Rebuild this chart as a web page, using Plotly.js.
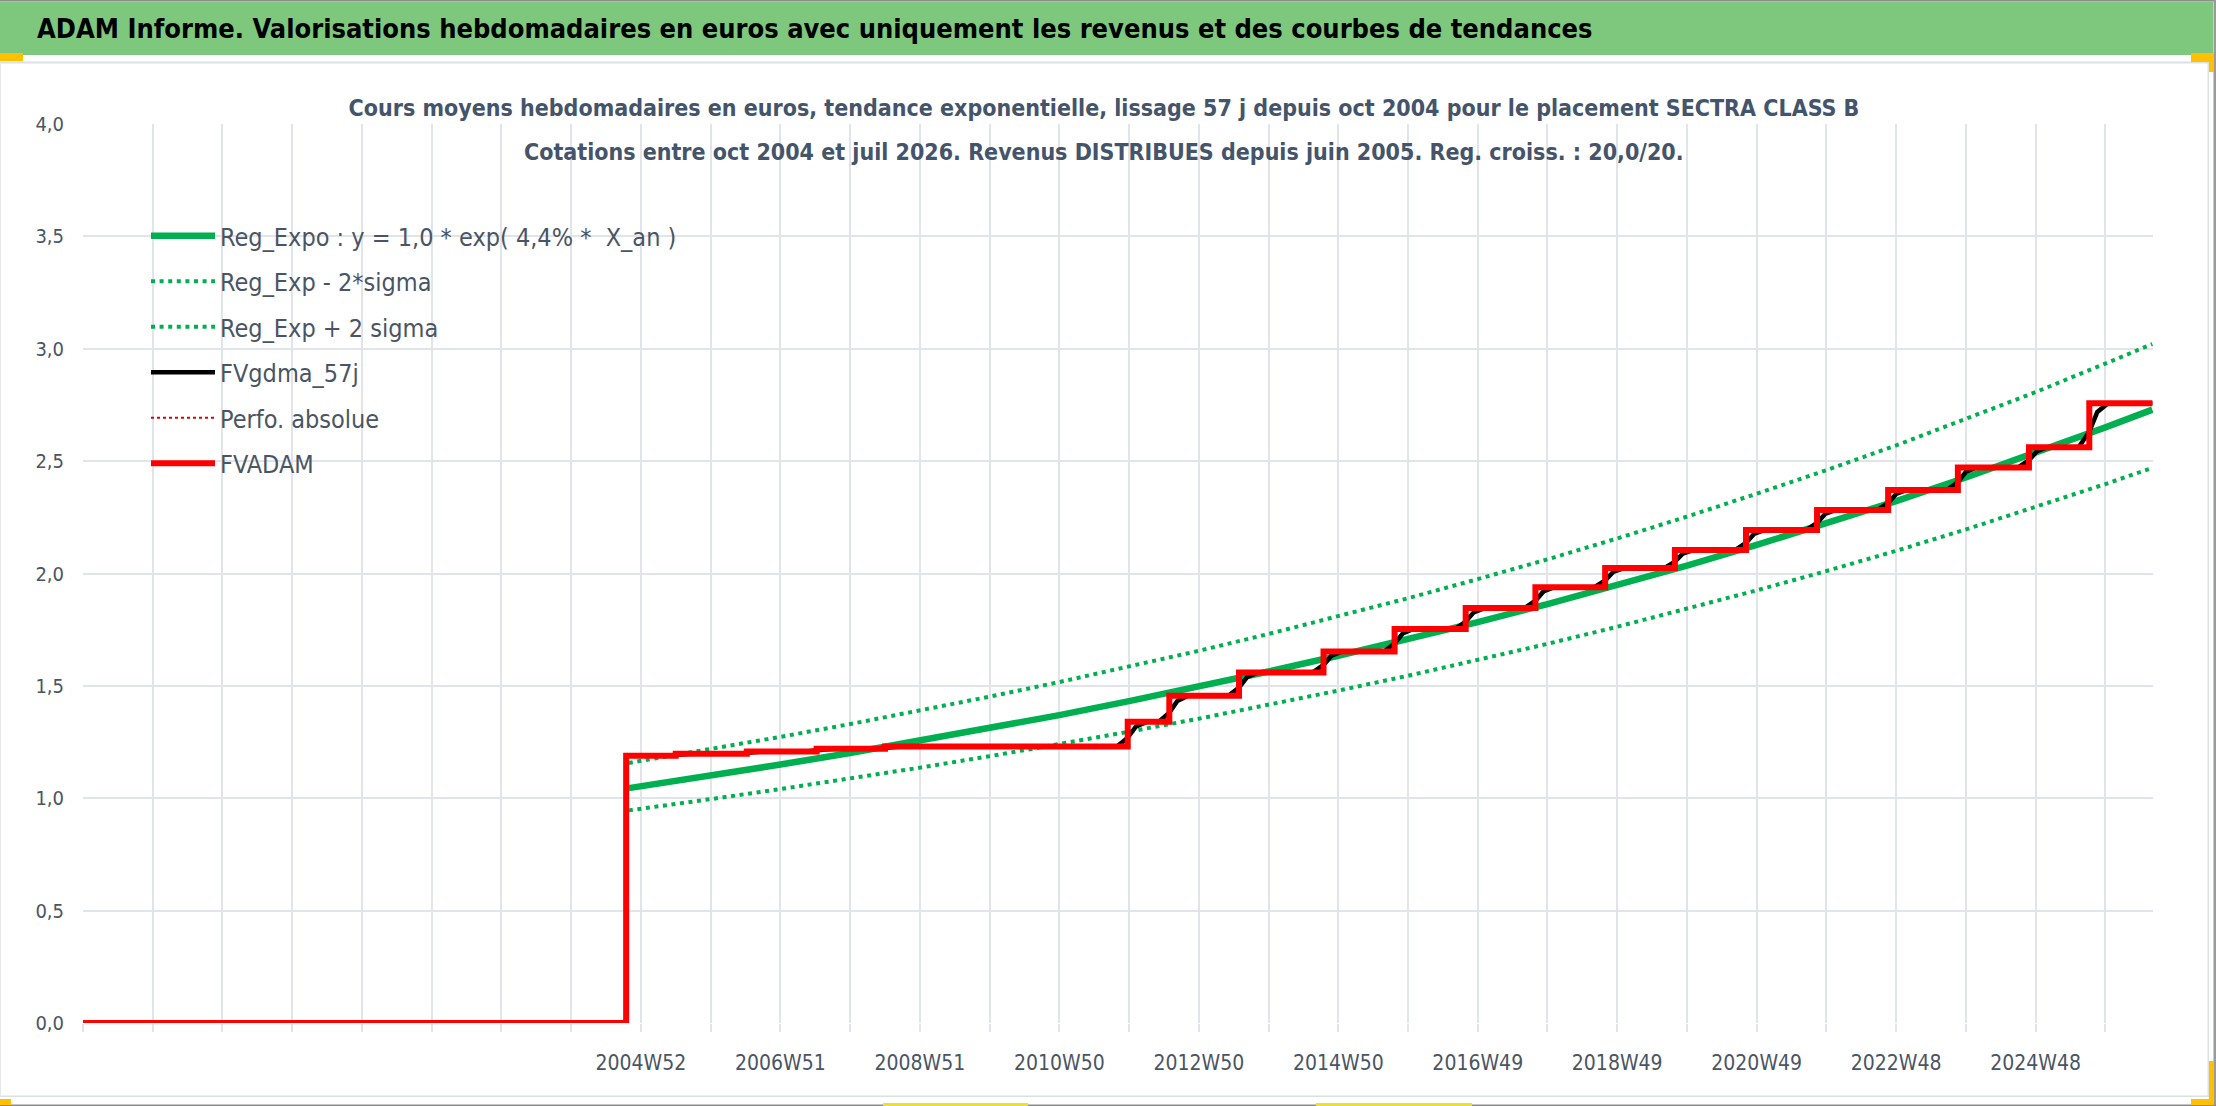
<!DOCTYPE html>
<html>
<head>
<meta charset="utf-8">
<script src="https://cdn.plot.ly/plotly-3.0.1.min.js"></script>
<style>
  body { margin: 0; background: #fff; }
  #chart { width: 2216px; height: 1106px; }
</style>
</head>
<body>
<div id="chart"></div>
<script>
// week index 0 = left edge of the axis, 52 weeks per gridline
var regWeeks = [407, 416, 468, 520, 572, 624, 676, 728, 780, 832, 884, 936, 988, 1040,
                1092, 1144, 1196, 1248, 1300, 1352, 1404, 1456, 1508, 1543];
var regExpo = [1.045, 1.053, 1.100, 1.150, 1.201, 1.255, 1.312, 1.370, 1.432, 1.496, 1.564, 1.634,
               1.707, 1.784, 1.864, 1.948, 2.035, 2.127, 2.222, 2.322, 2.427, 2.536, 2.650, 2.729];
var regLow = [0.946, 0.953, 0.996, 1.041, 1.087, 1.136, 1.187, 1.240, 1.296, 1.354, 1.415, 1.479,
              1.545, 1.615, 1.687, 1.763, 1.842, 1.925, 2.011, 2.101, 2.196, 2.295, 2.398, 2.470];
var regHigh = [1.157, 1.166, 1.218, 1.273, 1.330, 1.389, 1.452, 1.517, 1.585, 1.656, 1.731, 1.809,
               1.890, 1.975, 2.063, 2.156, 2.253, 2.355, 2.460, 2.570, 2.687, 2.807, 2.934, 3.021];

// FVADAM steps (value holds until next week listed)
var adamWeeks = [0, 405, 442, 495, 547, 598, 779, 810, 862, 925, 978, 1031, 1083, 1135, 1187,
                 1240, 1293, 1346, 1398, 1451, 1496, 1543];
var fvadam = [0, 1.189, 1.198, 1.208, 1.220, 1.230, 1.340, 1.456, 1.560, 1.653, 1.753, 1.846,
              1.939, 2.024, 2.105, 2.194, 2.283, 2.372, 2.472, 2.562, 2.758, 2.758];

// smoothed 57 j (lags a little around each distribution)
var gdmaWeeks = [405, 434, 454, 487, 507, 539, 559, 590, 610,
                 771, 779, 785, 793,   802, 810, 816, 824,   854, 862, 868, 876,
                 917, 925, 931, 939,   970, 978, 984, 992,   1023, 1031, 1037, 1045,
                 1075, 1083, 1089, 1097, 1127, 1135, 1141, 1149, 1179, 1187, 1193, 1201,
                 1232, 1240, 1246, 1254, 1285, 1293, 1299, 1307, 1338, 1346, 1352, 1360,
                 1390, 1398, 1404, 1412, 1443, 1451, 1457, 1465, 1488, 1496, 1502, 1510,
                 1543];
var gdma = [1.189, 1.189, 1.198, 1.198, 1.208, 1.208, 1.220, 1.220, 1.230,
            1.230, 1.269, 1.318, 1.340,   1.340, 1.381, 1.433, 1.456,   1.456, 1.492, 1.539, 1.560,
            1.560, 1.593, 1.634, 1.653,   1.653, 1.688, 1.733, 1.753,   1.753, 1.786, 1.827, 1.846,
            1.846, 1.879, 1.920, 1.939,   1.939, 1.969, 2.007, 2.024,   2.024, 2.052, 2.089, 2.105,
            2.105, 2.136, 2.176, 2.194,   2.194, 2.225, 2.265, 2.283,   2.283, 2.314, 2.354, 2.372,
            2.372, 2.407, 2.452, 2.472,   2.472, 2.504, 2.544, 2.562,   2.562, 2.631, 2.719, 2.758,
            2.758];

var labelWeeks = [416, 520, 624, 728, 832, 936, 1040, 1144, 1248, 1352, 1456];
var labelText = ['2004W52', '2006W51', '2008W51', '2010W50', '2012W50', '2014W50',
                 '2016W49', '2018W49', '2020W49', '2022W48', '2024W48'];

var FONT = '"DejaVu Sans Condensed", "Liberation Sans Narrow", "Open Sans", sans-serif';
var TXT = '#4a5564';
var GRID = '#e1e5eb';

// plot box in page pixels
var L = 83, R = 63, T = 124, B = 83, W = 2216, H = 1106;
var pw = W - L - R, ph = H - T - B;
function px(x) { return (x - L) / pw; }
function py(y) { return (H - B - y) / ph; }

// gridline every 52 weeks, label every other one
var tickVals = [], tickText = [];
for (var k = 0; k * 52 < 1543; k++) {
    tickVals.push(k * 52);
    var j = labelWeeks.indexOf(k * 52);
    tickText.push(j >= 0 ? labelText[j] : '');
}

var data = [{
    x: regWeeks, y: regExpo, name: 'Reg_Expo : y = 1,0 * exp( 4,4% *  X_an )',
    type: 'scatter', mode: 'lines', legendgroup: 'a',
    line: {color: '#00b050', width: 6.5}
}, {
    x: regWeeks, y: regLow, name: 'Reg_Exp - 2*sigma',
    type: 'scatter', mode: 'lines', legendgroup: 'b',
    line: {color: '#00b050', width: 4, dash: '4px,4.6px'}
}, {
    x: regWeeks, y: regHigh, name: 'Reg_Exp + 2 sigma',
    type: 'scatter', mode: 'lines', legendgroup: 'c',
    line: {color: '#00b050', width: 4, dash: '4px,4.6px'}
}, {
    x: gdmaWeeks, y: gdma, name: 'FVgdma_57j',
    type: 'scatter', mode: 'lines', legendgroup: 'd',
    line: {color: '#000000', width: 4.5}
}, {
    x: adamWeeks, y: fvadam, name: 'Perfo. absolue',
    type: 'scatter', mode: 'lines', legendgroup: 'e',
    line: {color: '#e00000', width: 2, dash: 'dot', shape: 'hv'}
}, {
    x: adamWeeks, y: fvadam, name: 'FVADAM',
    type: 'scatter', mode: 'lines', legendgroup: 'f',
    line: {color: '#ff0000', width: 6, shape: 'hv'}
}];

function box(x0, y0, x1, y1, color, layer) {
    return {type: 'rect', xref: 'paper', yref: 'paper', layer: layer || 'above',
            x0: px(x0), x1: px(x1), y0: py(y0), y1: py(y1),
            fillcolor: color, line: {width: 0}};
}

var shapes = [
    box(0, 0, W, 1.5, '#8c8c8c'),
    box(0, 1.5, 2213, 55, '#7ec87e'),
    box(2213.5, 0, W, H, '#9a9a9a'),
    box(0, 1104.5, W, H, '#8c8c8c'),
    box(0, 61.5, 2209, 63.5, '#dcdfe4'),
    box(2207.5, 62, 2209, 1097, '#dcdfe4'),
    box(0, 1095.5, 2209, 1097, '#dcdfe4'),
    box(0, 62, 1, 1097, '#e4e6ea'),
    box(0, 53, 23, 61, '#ffc000'),
    box(2191, 53, 2214, 62, '#ffc000'),
    box(2209, 53, 2214, 72, '#ffc000'),
    box(2209, 1061, 2214, 1105, '#ffc000'),
    box(2191, 1099, 2214, 1105, '#ffc000'),
    box(0, 1099, 11, 1105, '#ffc000'),
    box(883, 1103, 1028, 1106, '#e8df3c'),
    box(1316, 1103, 1472, 1106, '#e8df3c'),
    // white band behind the chart title
    box(334, 110, 1875, 174, '#ffffff', 'between')
];

var layout = {
    width: W, height: H,
    margin: {l: L, r: R, t: T, b: B},
    paper_bgcolor: '#ffffff', plot_bgcolor: '#ffffff',
    separators: ', ',
    font: {family: FONT, color: TXT},
    title: {
        text: 'Cours moyens hebdomadaires en euros, tendance exponentielle, lissage 57 j depuis oct 2004 pour le placement SECTRA CLASS B',
        font: {family: FONT, size: 23, color: '#44546a', weight: 700},
        xref: 'container', x: 1104 / W, xanchor: 'center',
        yref: 'container', y: 1 - 108 / H, yanchor: 'middle'
    },
    annotations: [{
        text: 'Cotations entre oct 2004 et juil 2026. Revenus DISTRIBUES depuis juin 2005. Reg. croiss. : 20,0/20.',
        xref: 'paper', yref: 'paper', x: px(1104), y: py(152), xanchor: 'center', yanchor: 'middle',
        showarrow: false, font: {family: FONT, size: 23, color: '#44546a', weight: 700}
    }, {
        text: 'ADAM Informe. Valorisations hebdomadaires en euros avec uniquement les revenus et des courbes de tendances',
        xref: 'paper', yref: 'paper', x: px(35), y: py(29), xanchor: 'left', yanchor: 'middle',
        showarrow: false, font: {family: FONT, size: 27, color: '#000000', weight: 700}
    }],
    xaxis: {
        range: [0, 1543.5], tickmode: 'array', tickvals: tickVals, ticktext: tickText,
        showgrid: true, gridcolor: GRID, gridwidth: 2, zeroline: false, showline: false,
        ticks: 'outside', ticklen: 8, tickwidth: 2, tickcolor: GRID,
        tickfont: {family: FONT, size: 21, color: TXT}, ticklabelstandoff: 13
    },
    yaxis: {
        range: [0, 4], dtick: 0.5, tick0: 0, tickformat: '.1f',
        showgrid: true, gridcolor: GRID, gridwidth: 2, zeroline: false, showline: false,
        ticks: '', tickfont: {family: FONT, size: 20, color: TXT}, ticklabelstandoff: 18
    },
    showlegend: true,
    legend: {
        x: px(146), y: py(213), xanchor: 'left', yanchor: 'top',
        bgcolor: 'rgba(0,0,0,0)', borderwidth: 0,
        font: {family: FONT, size: 25, color: TXT},
        traceorder: 'grouped', tracegroupgap: 10, itemwidth: 64
    },
    shapes: shapes
};

Plotly.newPlot('chart', data, layout, {displayModeBar: false, staticPlot: true});
</script>
</body>
</html>
